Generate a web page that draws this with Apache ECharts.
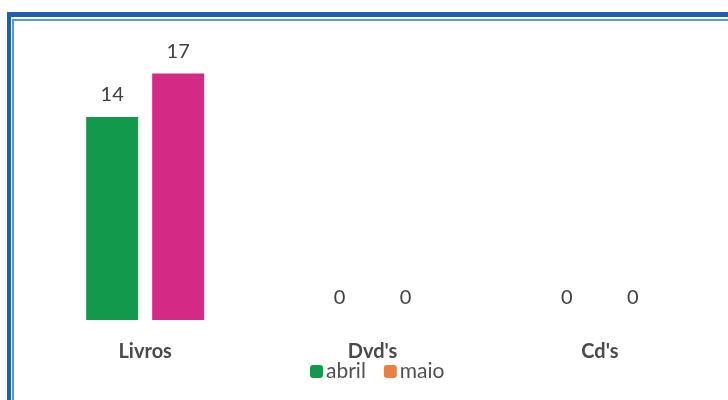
<!DOCTYPE html>
<html>
<head>
<meta charset="utf-8">
<script src="https://cdn.jsdelivr.net/npm/echarts@6/dist/echarts.min.js"></script>
<style>
html,body{margin:0;padding:0;background:#fff;}
#chart{width:728px;height:400px;}
</style>
</head>
<body>
<div id="chart"></div>
<script>
const categories = ["Livros", "Dvd's", "Cd's"];
const abril = [14, 0, 0];
const maio = [17, 0, 0];
const seriesNames = ["abril", "maio"];

const chart = echarts.init(document.getElementById('chart'));
const labelStyle = {
  show: true, position: 'top', distance: 12,
  fontFamily: 'Lato', fontSize: 20, color: '#404040'
};
chart.setOption({
  animation: false,
  backgroundColor: '#ffffff',
  graphic: [
    { type: 'rect', shape: { x: 7, y: 12, width: 740, height: 5 }, style: { fill: '#1f5fae' }, silent: true },
    { type: 'rect', shape: { x: 7, y: 12, width: 4, height: 400 }, style: { fill: '#1f5fae' }, silent: true },
    { type: 'rect', shape: { x: 12, y: 19, width: 740, height: 2 }, style: { fill: '#5b93d6' }, silent: true },
    { type: 'rect', shape: { x: 12, y: 19, width: 2, height: 400 }, style: { fill: '#5b93d6' }, silent: true }
  ],
  grid: { left: 31.5, right: 14.5, top: 30, bottom: 80 },
  legend: {
    data: seriesNames,
    left: 305, top: 356,
    itemWidth: 13, itemHeight: 13, itemGap: 18,
    icon: 'roundRect',
    textStyle: { fontFamily: 'Lato', fontSize: 21, color: '#505050', padding: [0, 0, 0, -2] }
  },
  xAxis: {
    type: 'category',
    data: categories,
    axisLine: { show: false },
    axisTick: { show: false },
    axisLabel: { margin: 22, fontFamily: 'Lato', fontWeight: 'bold', fontSize: 20, color: '#4a4a4a' }
  },
  yAxis: {
    type: 'value', min: 0, max: 20, show: false,
    splitLine: { show: false }
  },
  series: [
    {
      name: seriesNames[0], type: 'bar', data: abril,
      barWidth: 52, barGap: '27%',
      itemStyle: { color: '#13994b' },
      label: labelStyle
    },
    {
      name: seriesNames[1], type: 'bar',
      data: maio.map((v, i) => i === 0 ? { value: v, itemStyle: { color: '#d42a85' } } : v),
      barWidth: 52,
      itemStyle: { color: '#ea7f45' },
      label: labelStyle
    }
  ]
});
</script>
</body>
</html>
